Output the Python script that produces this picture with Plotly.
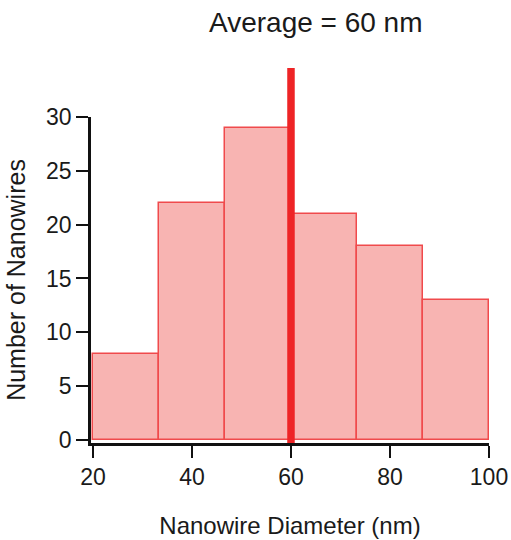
import plotly.graph_objects as go

bin_edges = [20, 33.333, 46.667, 60, 73.333, 86.667, 100]
counts = [8, 22, 29, 21, 18, 13]
average = 60
x_ticks = [20, 40, 60, 80, 100]
y_ticks = [0, 5, 10, 15, 20, 25, 30]

centers = [(a + b) / 2 for a, b in zip(bin_edges[:-1], bin_edges[1:])]
widths = [b - a for a, b in zip(bin_edges[:-1], bin_edges[1:])]

FONT = "Liberation Sans, Arial, sans-serif"

fig = go.Figure()
fig.add_trace(go.Bar(
    x=centers, y=counts, width=widths,
    marker=dict(color="#f8b4b2", line=dict(color="#f04a4c", width=1.5)),
    showlegend=False, hoverinfo="x+y",
))

fig.add_shape(type="line", xref="x", yref="paper",
              x0=average, x1=average, y0=0, y1=1.15,
              line=dict(color="#ee2426", width=7.5), layer="above")

fig.update_layout(
    width=511, height=540,
    margin=dict(l=91, r=22, t=117, b=97),
    plot_bgcolor="white", paper_bgcolor="white",
    font=dict(family=FONT, color="#1a1a1a"),
    bargap=0,
    annotations=[dict(text="Average = 60 nm", xref="paper", yref="paper",
                      x=(316 - 91) / 398, y=1.0, yshift=95, xanchor="center", yanchor="middle",
                      showarrow=False, font=dict(size=28, family=FONT, color="#1a1a1a"))],
)
fig.update_xaxes(
    automargin=False,
    range=[19.6, 100], tickvals=x_ticks, ticks="outside", ticklen=12, tickwidth=2,
    tickcolor="#111", showline=True, linecolor="#111", linewidth=2.5, showgrid=False,
    zeroline=False, tickfont=dict(size=23, family=FONT),
    title=dict(text="Nanowire Diameter (nm)", font=dict(size=24, family=FONT), standoff=28),
)
fig.update_yaxes(
    automargin=False,
    range=[-0.28, 30], tickvals=y_ticks, ticks="outside", ticklen=12, tickwidth=2,
    tickcolor="#111", showline=True, linecolor="#111", linewidth=2.5, showgrid=False,
    zeroline=False, tickfont=dict(size=23, family=FONT),
    title=dict(text="Number of Nanowires", font=dict(size=25, family=FONT), standoff=14),
)

fig.write_html("out.html")
